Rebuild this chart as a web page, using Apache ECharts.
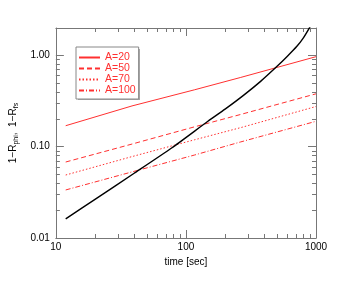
<!DOCTYPE html>
<html><head><meta charset="utf-8">
<script src="https://cdn.jsdelivr.net/npm/echarts@6/dist/echarts.min.js"></script>
<style>html,body{margin:0;padding:0;background:#fff}#c{width:352px;height:281px}</style>
</head><body><div id="c"></div>
<script>
// data
const tRed = [11.9, 38.5, 116, 264, 1000];
const a20 = [0.17, 0.28, 0.42, 0.575, 0.97];
const a50 = [0.068, 0.107, 0.165, 0.226, 0.38];
const a70 = [0.049, 0.078, 0.119, 0.162, 0.276];
const a100 = [0.0336, 0.053, 0.081, 0.113, 0.19];
const tBlack = [11.9, 20, 40, 77.6, 147.5, 200, 280, 375, 502, 600, 713, 800, 900];
const vBlack = [0.0162, 0.0265, 0.0512, 0.0968, 0.19, 0.258, 0.37, 0.52, 0.76, 0.975, 1.26, 1.56, 2.06];
const seriesNames = ['A=20', 'A=50', 'A=70', 'A=100'];
const xMajor = [10, 100, 1000];
const xMinor = [20,30,40,50,60,70,80,90,200,300,400,500,600,700,800,900];
const yMajor = [0.01, 0.1, 1];
const yMinor = [0.02,0.03,0.04,0.05,0.06,0.07,0.08,0.09,0.2,0.3,0.4,0.5,0.6,0.7,0.8,0.9];

const pair = (xs, ys) => xs.map((x, i) => [x, ys[i]]);
const FONT = 'Liberation Sans';
const AX = '#777';
const RED = '#ff3030';
function xAx(pos, ticks, len, main) {
  return {
    type: 'log', position: pos, min: 10, max: 1000, logBase: 10,
    axisLine: { show: main, lineStyle: { color: AX, width: 1 } },
    axisTick: { show: true, inside: true, length: len, customValues: ticks, lineStyle: { color: AX } },
    axisLabel: { show: main && pos === 'bottom', customValues: xMajor, margin: 4, color: '#000', fontFamily: FONT, fontSize: 10,
      formatter: v => String(Math.round(v)) },
    splitLine: { show: false }, minorTick: { show: false }
  };
}
function yAx(pos, ticks, len, main) {
  return {
    type: 'log', position: pos, min: 0.01, max: 2, logBase: 10,
    axisLine: { show: main, lineStyle: { color: AX, width: 1 } },
    axisTick: { show: true, inside: true, length: len, customValues: ticks, lineStyle: { color: AX } },
    axisLabel: { show: main && pos === 'left', customValues: yMajor, margin: 6, color: '#000', fontFamily: FONT, fontSize: 10,
      formatter: v => Number(v).toFixed(2) },
    splitLine: { show: false }, minorTick: { show: false }
  };
}
const xAxes = [xAx('bottom', xMajor, 8, true), xAx('bottom', xMinor, 4, false), xAx('top', xMajor, 8, true), xAx('top', xMinor, 4, false)];
xAxes[0].name = 'time [sec]';
xAxes[0].nameLocation = 'middle';
xAxes[0].nameGap = 15;
xAxes[0].nameTextStyle = { color: '#000', fontFamily: FONT, fontSize: 10 };
const yAxes = [yAx('left', yMajor, 8, true), yAx('left', yMinor, 4, false), yAx('right', yMajor, 8, true), yAx('right', yMinor, 4, false)];
yAxes[0].name = '{n|1\u2212R}{s|phi}{n|,  1\u2212R}{s|fs}';
yAxes[0].nameLocation = 'middle';
yAxes[0].nameGap = 31;
yAxes[0].nameTextStyle = { color: '#000', fontFamily: FONT, fontSize: 10,
  rich: { n: { fontFamily: FONT, fontSize: 10, color: '#000' }, s: { fontFamily: FONT, fontSize: 7, color: '#000', verticalAlign: 'bottom', padding: [6, 0, 0, 0] } } };

const dashes = ['solid', [5, 3], [1.5, 2], [5, 2, 1, 2]];
const reds = [a20, a50, a70, a100];
const series = reds.map((arr, i) => ({
  name: seriesNames[i], type: 'line', xAxisIndex: 0, yAxisIndex: 0, symbol: 'none',
  data: pair(tRed, arr), lineStyle: { color: RED, width: 1, type: dashes[i] }, itemStyle: { color: RED }
}));
series.push({ name: 'black', type: 'line', xAxisIndex: 0, yAxisIndex: 0, symbol: 'none', smooth: 0.2,
  data: pair(tBlack, vBlack), lineStyle: { color: '#000', width: 1.4 }, clip: true });

const chart = echarts.init(document.getElementById('c'), null, { renderer: 'canvas' });
chart.setOption({
  animation: false,
  backgroundColor: '#fff',
  grid: { left: 53, right: 36, top: 28, bottom: 43, containLabel: false },
  xAxis: xAxes, yAxis: yAxes,
  graphic: [{ type: 'rect', z: 1, shape: { x: 78, y: 49, width: 62, height: 51 }, style: { fill: '#a8a8a8' } }],
  legend: {
    z: 5,
    data: seriesNames, orient: 'vertical', left: 76, top: 47,
    itemWidth: 21, itemHeight: 9, itemGap: 0,
    padding: [5, 3, 3, 2],
    itemStyle: { opacity: 0 },
    textStyle: { color: RED, fontFamily: FONT, fontSize: 10.5, lineHeight: 11 },
    backgroundColor: '#fff', borderColor: '#888', borderWidth: 1
  },
  series: series
});
</script></body></html>
